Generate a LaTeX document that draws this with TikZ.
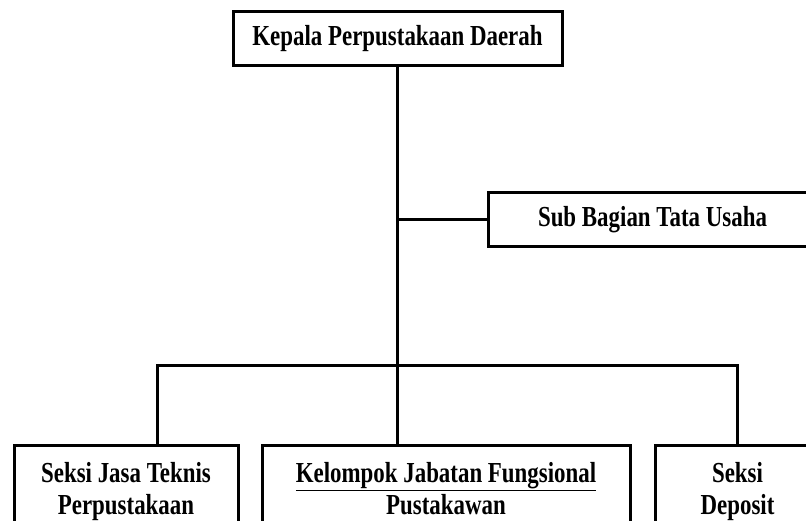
\documentclass[tikz,border=0pt]{standalone}
\usepackage{fontspec}
\setmainfont{Liberation Serif}[FakeStretch=0.79]
\begin{document}
\begin{tikzpicture}[x=1pt,y=-1pt,
  box/.style={draw,line width=3pt,rectangle,inner sep=0pt,align=center,
    font=\bfseries\fontsize{29}{32}\selectfont},
  link/.style={line width=3pt}]
\useasboundingbox (0,0) rectangle (806,521);
\clip (0,0) rectangle (806,521);
\node[box,minimum width=329pt,minimum height=54pt] (kepala) at (397.5,39) {\strut Kepala Perpustakaan Daerah};
\node[box,minimum width=343pt,minimum height=54pt,anchor=west] (sub) at (487,220) {\hspace*{-15pt}\strut Sub Bagian Tata Usaha};
\node[box,minimum width=224pt,minimum height=93pt] (jasa) at (126,491.6) {\strut Seksi Jasa Teknis\\\strut Perpustakaan};
\node[box,minimum width=368pt,minimum height=93pt] (kel) at (446,491.6) {\strut\underline{Kelompok Jabatan Fungsional}\\\strut Pustakawan};
\node[box,minimum width=165pt,minimum height=93pt] (dep) at (737.5,491.6) {\strut Seksi\\\strut Deposit};
\coordinate (bl) at (157,365);
\coordinate (bm) at (397,365);
\coordinate (br) at (737,365);
\coordinate (sj) at (397,220);
\draw[link] (kepala.south -| bm) -- (bm);
\draw[link] (bm) -- (kel.north -| bm);
\draw[link] (sj) -- (sub.west);
\draw[link,line cap=rect] (bl) -- (br);
\draw[link] (bl) -- (jasa.north -| bl);
\draw[link] (br) -- (dep.north -| br);
\end{tikzpicture}
\end{document}
